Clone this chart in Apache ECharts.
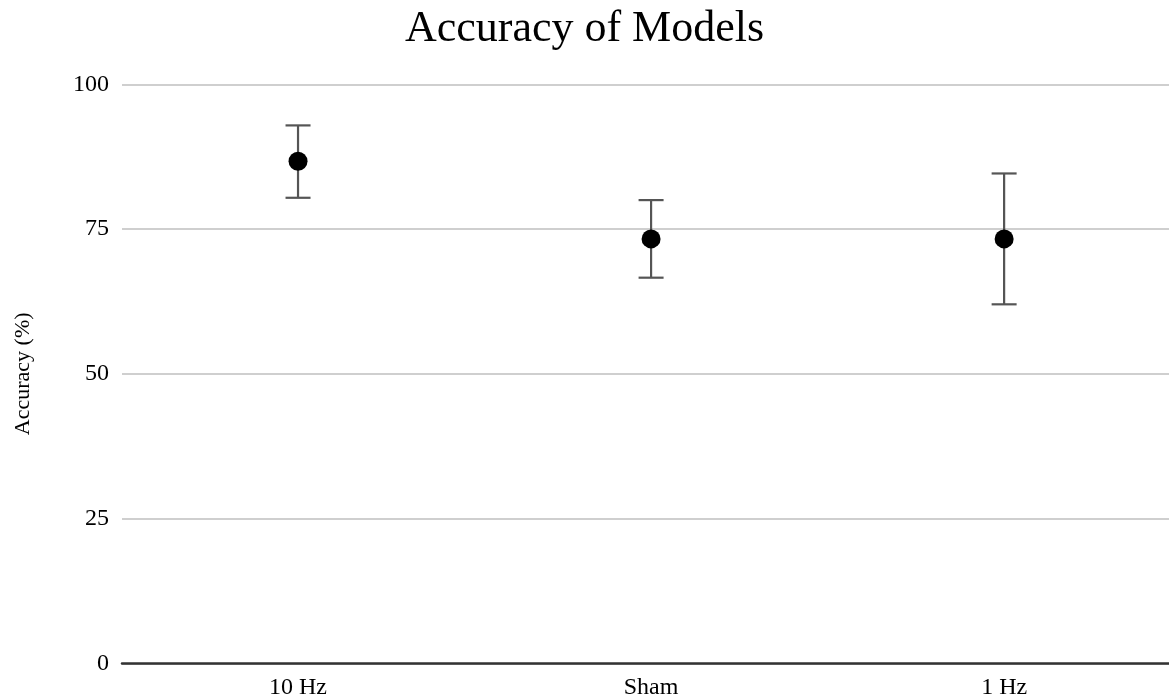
<!DOCTYPE html>
<html>
<head>
<meta charset="utf-8">
<script src="https://cdn.jsdelivr.net/npm/echarts@6/dist/echarts.min.js"></script>
<style>html,body{margin:0;padding:0;background:#fff}#c{width:1169px;height:700px}</style>
</head>
<body>
<div id="c"></div>
<script>
const categories = ["10 Hz", "Sham", "1 Hz"];
const accuracy = [86.7, 73.3, 73.3];
const errLow = [80.4, 66.6, 62.0];
const errHigh = [92.9, 80.0, 84.6];
const yTicks = [0, 25, 50, 75, 100];

const serif = "Liberation Serif";
const idx = categories.map((c, i) => i);
const chart = echarts.init(document.getElementById('c'));
chart.setOption({
  backgroundColor: '#fff',
  animation: false,
  title: {
    text: 'Accuracy of Models',
    left: 'center', top: 2,
    textStyle: { fontFamily: serif, fontSize: 44, fontWeight: 'normal', color: '#000' }
  },
  grid: { left: 122, right: 0, top: 84.3, bottom: 36.7, containLabel: false },
  xAxis: {
    type: 'value', min: -0.4986, max: 2.467,
    axisLine: { show: true, onZero: false, lineStyle: { color: '#333', width: 2.5 } },
    axisTick: { show: false },
    splitLine: { show: false },
    axisLabel: {
      customValues: idx,
      formatter: function (v) { return categories[Math.round(v)] || ''; },
      fontFamily: serif, fontSize: 24, color: '#000', margin: 12
    }
  },
  yAxis: {
    type: 'value', min: yTicks[0], max: yTicks[yTicks.length - 1], interval: 25,
    name: 'Accuracy (%)', nameLocation: 'middle', nameGap: 88, nameRotate: 90,
    nameTextStyle: { fontFamily: serif, fontSize: 22, color: '#000' },
    axisLine: { show: false }, axisTick: { show: false },
    axisLabel: { fontFamily: serif, fontSize: 24, color: '#000', margin: 13 },
    splitLine: { lineStyle: { color: '#cfcfcf', width: 2 } }
  },
  series: [
    {
      type: 'custom',
      data: idx.map(i => [i, errLow[i], errHigh[i]]),
      renderItem: function (params, api) {
        const x = api.value(0);
        const lo = api.coord([x, api.value(1)]);
        const hi = api.coord([x, api.value(2)]);
        const hw = 12.5;
        const style = { stroke: '#555', lineWidth: 2.2 };
        return {
          type: 'group',
          children: [
            { type: 'line', shape: { x1: lo[0], y1: lo[1], x2: hi[0], y2: hi[1] }, style },
            { type: 'line', shape: { x1: lo[0] - hw, y1: lo[1], x2: lo[0] + hw, y2: lo[1] }, style },
            { type: 'line', shape: { x1: hi[0] - hw, y1: hi[1], x2: hi[0] + hw, y2: hi[1] }, style }
          ]
        };
      },
      z: 2
    },
    {
      type: 'scatter',
      data: idx.map(i => [i, accuracy[i]]),
      symbol: 'circle', symbolSize: 19,
      itemStyle: { color: '#000', opacity: 1 },
      z: 3
    }
  ]
});
</script>
</body>
</html>
